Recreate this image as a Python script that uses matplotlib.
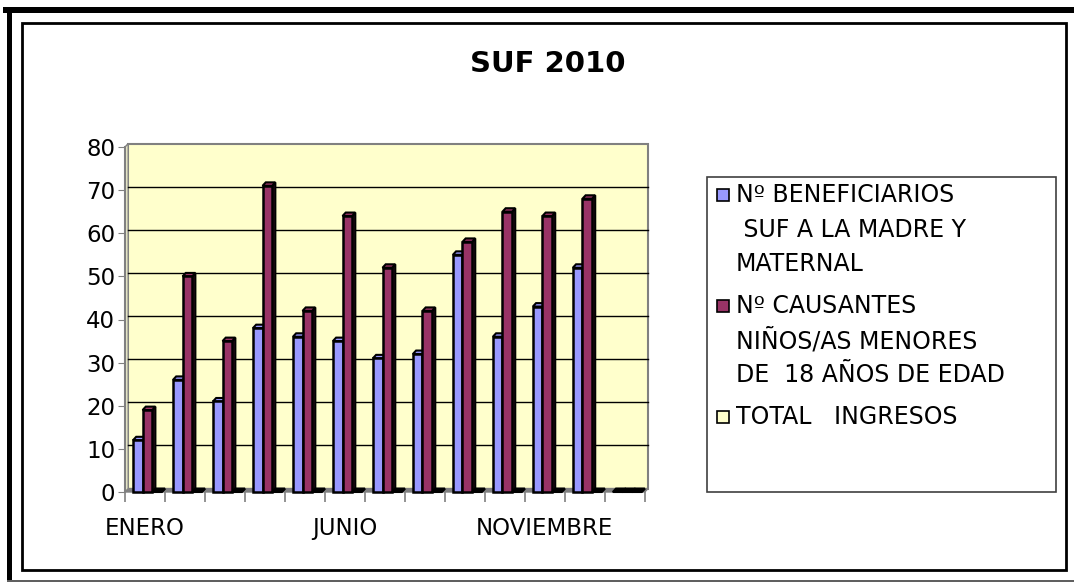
import matplotlib
matplotlib.use("Agg")
import matplotlib.pyplot as plt
from matplotlib.patches import Rectangle, Polygon

# data
meses = ["ENERO", "FEBRERO", "MARZO", "ABRIL", "MAYO", "JUNIO", "JULIO",
         "AGOSTO", "SEPTIEMBRE", "OCTUBRE", "NOVIEMBRE", "DICIEMBRE", "TOTAL"]
beneficiarios = [12, 26, 21, 38, 36, 35, 31, 32, 55, 36, 43, 52, 0]
causantes = [19, 50, 35, 71, 42, 64, 52, 42, 58, 65, 64, 68, 0]
total_ingresos = [0, 0, 0, 0, 0, 0, 0, 0, 0, 0, 0, 0, 0]
etiquetas = ["Nº BENEFICIARIOS\n SUF A LA MADRE Y\nMATERNAL",
             "Nº CAUSANTES\nNIÑOS/AS MENORES\nDE  18 AÑOS DE EDAD",
             "TOTAL   INGRESOS"]
colores = ["#9999FF", "#993366", "#FFFFCC"]
lados = ["#4C4C80", "#4A1830", "#808066"]

plt.rcParams['font.family'] = ['DejaVu Sans']

fig = plt.figure(figsize=(10.74, 5.82), dpi=100)
W, H = 1074, 582
ax = fig.add_axes([125/W, 1-492/H, 523/W, 345/H])

n = len(meses)
dx, dy = 0.08, 0.8   # fake depth of the 3d look
w = 0.24

# back wall, floor and side wall
ax.add_patch(Rectangle((dx, dy), n, 80, facecolor="#FFFFCC", edgecolor="#808080", lw=1.5, zorder=0, clip_on=False))
ax.add_patch(Polygon([(0, 0), (n, 0), (n+dx, dy), (dx, dy)], closed=True, facecolor="#808080", edgecolor="#808080", zorder=1, clip_on=False))
ax.add_patch(Polygon([(0, 0), (dx, dy), (dx, 80+dy), (0, 80)], closed=True, facecolor="#E8E8C8", edgecolor="#808080", lw=1, zorder=1, clip_on=False))
for v in range(10, 80, 10):
    ax.plot([dx, n+dx], [v+dy, v+dy], color="black", lw=1, zorder=2, clip_on=False)

series = [beneficiarios, causantes, total_ingresos]
for s, vals in enumerate(series):
    for i, h in enumerate(vals):
        x0 = i + 0.2 + s*w
        x1 = x0 + w
        ax.add_patch(Polygon([(x1, 0), (x1+dx, dy), (x1+dx, h+dy), (x1, h)], closed=True,
                             facecolor=lados[s], edgecolor="black", lw=1.5, zorder=3+s, clip_on=False))
        ax.add_patch(Polygon([(x0, h), (x0+dx, h+dy), (x1+dx, h+dy), (x1, h)], closed=True,
                             facecolor=colores[s] if h > 0 else "black", edgecolor="black", lw=1.5, zorder=3+s, clip_on=False))
        if h > 0:
            ax.add_patch(Rectangle((x0, 0), w, h, facecolor=colores[s], edgecolor="black", lw=1.8, zorder=3+s, clip_on=False))

ax.set_xlim(0, n + dx)
ax.set_ylim(0, 80)
ax.set_facecolor("none")
for side in ["top", "right", "bottom"]:
    ax.spines[side].set_visible(False)
ax.spines["left"].set_color("#808080")
ax.spines["left"].set_linewidth(1.5)

ax.set_yticks(range(0, 81, 10))
ax.tick_params(axis="y", direction="out", length=5, color="#808080", labelsize=16.5, pad=2)
ax.set_xticks(range(n + 1), minor=True)
ax.set_xticks([0.5, 5.5, 10.5])
ax.set_xticklabels([meses[0], meses[5], meses[10]])
ax.tick_params(axis="x", which="major", length=0, labelsize=16.5, pad=18)
ax.tick_params(axis="x", which="minor", direction="out", length=7, color="#808080", width=1.2)

fig.text(548/W, 1-64/H, "SUF 2010", ha="center", va="center", fontsize=21, fontweight="bold")

# legend, drawn by hand so the swatch sits on the first line of each entry
fig.patches.append(Rectangle((707/W, 1-492/H), 349/W, 315/H, transform=fig.transFigure,
                             facecolor="white", edgecolor="#404040", lw=1.2, zorder=0))
y = 195
for lab, c in zip(etiquetas, colores):
    fig.patches.append(Rectangle((717/W, 1-(y+6)/H), 12/W, 12/H, transform=fig.transFigure,
                                 facecolor=c, edgecolor="black", lw=1.2))
    for linea in lab.split("\n"):
        fig.text(736/W, 1-y/H, linea, ha="left", va="center", fontsize=17)
        y += 34.7
    y += 7

# frames round the picture
fig.patches.append(Rectangle((22/W, 1-570/H), 1044/W, 547/H, transform=fig.transFigure,
                             facecolor="none", edgecolor="black", lw=2))
fig.patches.append(Rectangle((3/W, 1-13/H), 1071/W, 6/H, transform=fig.transFigure,
                             facecolor="black", edgecolor="none"))
fig.patches.append(Rectangle((7/W, 1-581/H), 5/W, 574/H, transform=fig.transFigure,
                             facecolor="black", edgecolor="none"))
fig.patches.append(Rectangle((7/W, 0), 1067/W, 2/H, transform=fig.transFigure,
                             facecolor="#606060", edgecolor="none"))

fig.savefig("out.png", dpi=100)
